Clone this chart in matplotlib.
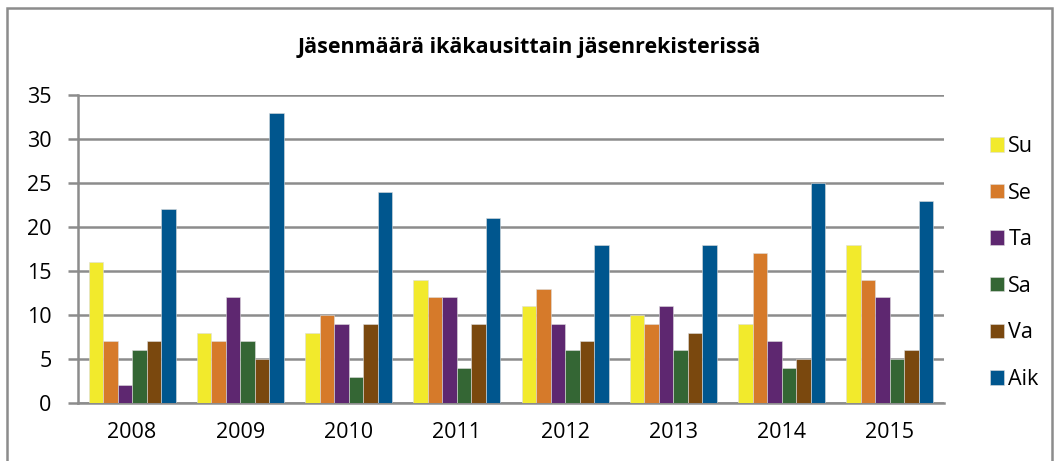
import matplotlib
matplotlib.use("Agg")
import matplotlib.pyplot as plt
import numpy as np
from matplotlib.patches import Rectangle

years = ["2008", "2009", "2010", "2011", "2012", "2013", "2014", "2015"]
series_names = ["Su", "Se", "Ta", "Sa", "Va", "Aik"]
su = [16, 8, 8, 14, 11, 10, 9, 18]
se = [7, 7, 10, 12, 13, 9, 17, 14]
ta = [2, 12, 9, 12, 9, 11, 7, 12]
sa = [6, 7, 3, 4, 6, 6, 4, 5]
va = [7, 5, 9, 9, 7, 8, 5, 6]
aik = [22, 33, 24, 21, 18, 18, 25, 23]
colors = ["#F2EA2C", "#D67A2A", "#5E2770", "#346634", "#7A480E", "#00568E"]

plt.rcParams['font.family'] = ['Open Sans', 'DejaVu Sans']

fig = plt.figure(figsize=(10.58, 4.61), dpi=100)
ax = fig.add_axes([78/1058, 1-403/461, (944-78)/1058, (403-95)/461])

data = [su, se, ta, sa, va, aik]
x = np.arange(len(years))
w = 0.134
for i, (name, vals, c) in enumerate(zip(series_names, data, colors)):
    ax.bar(x + (i - 2.5) * w, vals, width=w, color=c, edgecolor="#dddddd",
           linewidth=0.4, label=name, zorder=3)

ax.set_xlim(-0.5, len(years) - 0.5)
ax.set_ylim(0, 35)
ax.set_yticks(range(0, 36, 5))
ax.set_xticks(x)
ax.set_xticklabels(years)
ax.yaxis.grid(True, color="#8c8c8c", linewidth=1.8, zorder=0)
ax.set_axisbelow(True)
for s in ["top", "right"]:
    ax.spines[s].set_visible(False)
ax.spines["left"].set_color("#8c8c8c")
ax.spines["left"].set_linewidth(1.8)
ax.spines["bottom"].set_color("#8c8c8c")
ax.spines["bottom"].set_linewidth(1.8)
ax.tick_params(axis="y", length=7, width=1.8, color="#8c8c8c", labelsize=15.5, pad=12)
ax.tick_params(axis="x", length=0, labelsize=15.5, pad=14)

fig.text(0.5, 1-47/461, "Jäsenmäärä ikäkausittain jäsenrekisterissä", ha="center",
         va="center", fontsize=15.5, fontweight="bold")

leg = fig.legend(loc="center left", bbox_to_anchor=(990/1058, 1-263/461), frameon=False,
                 fontsize=15.5, handlelength=0.65, handleheight=0.65, handletextpad=0.2,
                 labelspacing=1.19, borderaxespad=0, borderpad=0)

fig.patches.append(Rectangle((7/1058, -0.1), (1052-7)/1058, 1.1-8/461, transform=fig.transFigure,
                             fill=False, edgecolor="#8c8c8c", linewidth=1.8))

fig.savefig("out.png", dpi=100)
